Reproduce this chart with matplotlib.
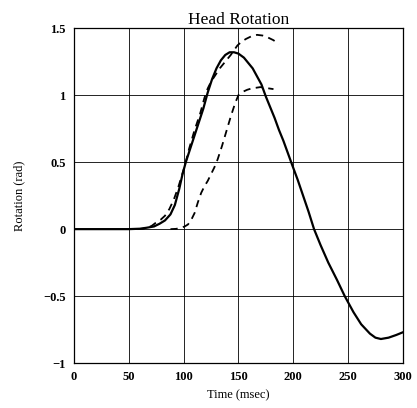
import matplotlib
matplotlib.use("Agg")
import matplotlib.pyplot as plt

# Solid curve (model)
t_solid = [0, 30, 50, 60, 66, 73, 78, 83, 88, 92, 96, 99, 102, 106, 110, 114, 118,
           122, 126, 130, 134, 138, 142, 146, 150, 155, 159, 163, 167, 171, 175,
           179, 183, 187, 191, 195, 199, 204, 209, 214, 219, 225, 232, 240, 247,
           255, 262, 270, 275, 280, 287, 294, 300]
y_solid = [0.0, 0.0, 0.0, 0.003, 0.01, 0.02, 0.04, 0.065, 0.11, 0.18, 0.30, 0.41,
           0.50, 0.60, 0.70, 0.80, 0.90, 1.02, 1.12, 1.20, 1.26, 1.30, 1.32, 1.32,
           1.31, 1.28, 1.24, 1.20, 1.14, 1.08, 0.99, 0.91, 0.83, 0.74, 0.66, 0.57,
           0.48, 0.37, 0.25, 0.13, 0.0, -0.12, -0.25, -0.38, -0.50, -0.62, -0.71,
           -0.78, -0.81, -0.82, -0.81, -0.79, -0.77]

# Upper dashed curve
t_dash1 = [58, 63, 67, 71, 75, 79, 83, 87, 91, 95, 98, 101, 105, 110, 115, 119,
           122, 125, 129, 133, 138, 143, 149, 153, 157, 162, 167, 172, 177, 182, 187]
y_dash1 = [0.0, 0.003, 0.01, 0.025, 0.05, 0.07, 0.10, 0.15, 0.22, 0.31, 0.39,
           0.47, 0.60, 0.74, 0.86, 0.98, 1.05, 1.10, 1.15, 1.20, 1.25, 1.30, 1.37,
           1.40, 1.42, 1.44, 1.45, 1.445, 1.43, 1.41, 1.38]

# Lower dashed curve
t_dash2 = [88, 93, 97, 101, 104, 107, 110, 113, 116, 119, 122, 125, 128, 131, 135,
           139, 143, 147, 150, 154, 158, 162, 166, 170, 174, 178, 182]
y_dash2 = [0.0, 0.002, 0.008, 0.02, 0.035, 0.07, 0.12, 0.20, 0.27, 0.32, 0.36,
           0.41, 0.46, 0.52, 0.62, 0.73, 0.84, 0.94, 1.0, 1.025, 1.04, 1.05, 1.055,
           1.06, 1.055, 1.05, 1.045]

x_ticks = [0, 50, 100, 150, 200, 250, 300]
y_ticks = [-1, -0.5, 0, 0.5, 1, 1.5]
y_ticklabels = ["\u22121", "\u22120.5", "0", "0.5", "1", "1.5"]

plt.rcParams['font.family'] = ['Liberation Serif', 'DejaVu Serif']

fig = plt.figure(figsize=(4.17, 4.08), dpi=100)
ax = fig.add_axes([0.1775, 0.110, 0.7885, 0.821])

ax.plot(t_solid, y_solid, color='black', lw=1.6, solid_joinstyle='round')
ax.plot(t_dash1, y_dash1, color='black', lw=1.3, dashes=(4, 3))
ax.plot(t_dash2, y_dash2, color='black', lw=1.3, dashes=(4, 3))

ax.set_xlim(0, 300)
ax.set_ylim(-1, 1.5)
ax.set_xticks(x_ticks)
ax.set_yticks(y_ticks)
ax.set_yticklabels(y_ticklabels)
ax.grid(True, color='black', lw=0.6)
ax.set_axisbelow(True)
ax.tick_params(length=0, pad=6, labelsize=9)
for lbl in ax.get_xticklabels() + ax.get_yticklabels():
    lbl.set_fontweight('bold')
for s in ax.spines.values():
    s.set_linewidth(0.9)

ax.set_title("Head Rotation", fontsize=12.5, pad=2)
ax.set_xlabel("Time (msec)", fontsize=9, labelpad=4)
ax.set_ylabel("Rotation (rad)", fontsize=9, labelpad=13)

fig.savefig("out.png", dpi=100)
